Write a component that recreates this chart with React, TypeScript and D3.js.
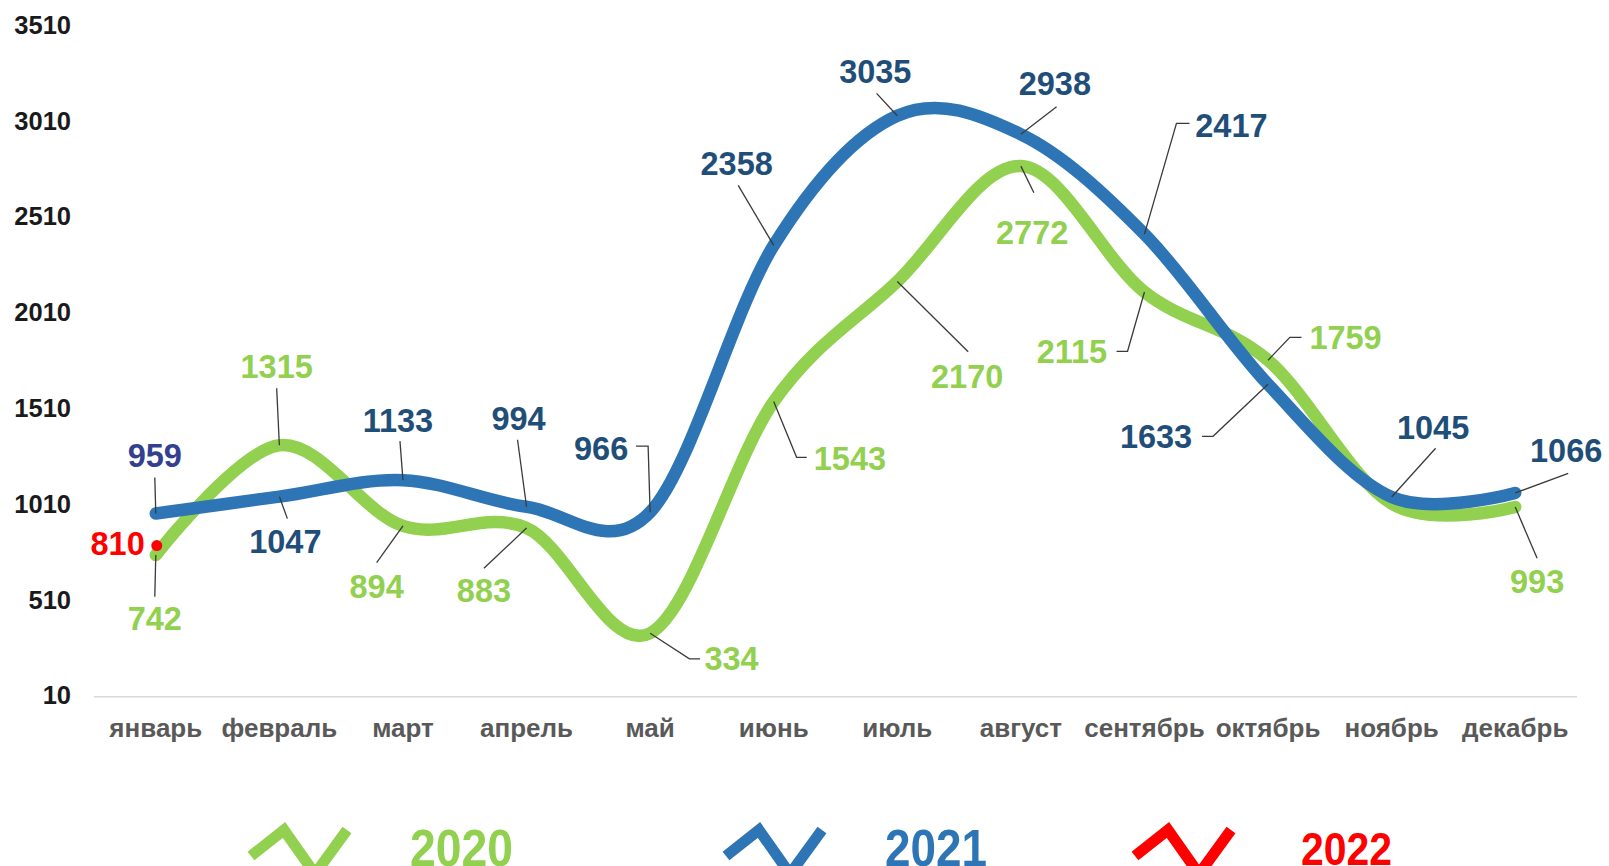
import React from "react";
import * as d3 from "d3";

const months = ["январь","февраль","март","апрель","май","июнь","июль","август","сентябрь","октябрь","ноябрь","декабрь"];
const values2020 = [742, 1315, 894, 883, 334, 1543, 2170, 2772, 2115, 1759, 1010, 993];
const values2021 = [959, 1047, 1133, 994, 966, 2358, 3035, 2938, 2417, 1633, 1045, 1066];
const values2022 = [810];
const yTicks = [10, 510, 1010, 1510, 2010, 2510, 3010, 3510];
const labelled2020 = [true, true, true, true, true, true, true, true, true, true, false, true];

// label layout: [dx, dy] of label centre relative to the point, leader vertices relative to the point
type Lay = { d: [number, number]; lead: [number, number][] };
const layout2021: Lay[] = [
  { d: [-1, -58], lead: [[-1, -36]] },
  { d: [6, 45], lead: [[8, 22]] },
  { d: [-5, -60], lead: [[-3, -39]] },
  { d: [-8, -88], lead: [[-9, -67]] },
  { d: [-49, -64], lead: [[-14, -66], [-2, -66]] },
  { d: [-37, -82], lead: [[-35.5, -60]] },
  { d: [-22, -44], lead: [[-20.7, -22.3]] },
  { d: [34, -51], lead: [[35.7, -27.6]] },
  { d: [87, -109], lead: [[45, -110.7], [32, -110.7]] },
  { d: [-112, 52], lead: [[-66, 52], [-55, 52]] },
  { d: [41.5, -70], lead: [[44, -48.7]] },
  { d: [51, -43], lead: [[53, -19.7]] },
];
const layout2020: Lay[] = [
  { d: [-1, 63], lead: [[-1, 41.6]] },
  { d: [-2.7, -78.6], lead: [[-2.7, -57]] },
  { d: [-26.3, 60.8], lead: [[-26.3, 36.8]] },
  { d: [-42.6, 62], lead: [[-42.6, 40.3]] },
  { d: [81.4, 25.6], lead: [[50, 25.6], [39.3, 25.6]] },
  { d: [76.2, 56.7], lead: [[33, 55.7], [22.9, 55.7]] },
  { d: [69.9, 95.3], lead: [[70.9, 70.3]] },
  { d: [11.3, 66.6], lead: [[13, 26.6]] },
  { d: [-72.5, 59.3], lead: [[-27.9, 59.3], [-16.9, 59.3]] },
  { d: [77.5, -22.9], lead: [[33.5, -22.9], [21.8, -22.9]] },
  { d: [0, 0], lead: [] },
  { d: [21.9, 74.7], lead: [[21.9, 51.3]] },
];

const GREEN = "#92D050";
const BLUE = "#2E75B6";
const BLUE_TXT = "#1F4E79";
const RED = "#FF0000";
const FONT = "'Liberation Sans', Arial, sans-serif";

export default function App() {
  const W = 1609, H = 866;
  const x = d3.scaleBand<string>().domain(months).range([94, 1577]);
  const cx = (m: string) => (x(m) as number) + x.bandwidth() / 2;
  const y = d3.scaleLinear().domain([10, 3510]).range([695.3, 24.7]);
  const line = d3
    .line<number>()
    .x((_, i) => cx(months[i]))
    .y((v) => y(v))
    .curve(d3.curveCardinal.tension(0));

  const fs = 32.5;
  const renderLabels = (vals: number[], lay: Lay[], color: string, show: boolean[] | null, key: string) =>
    vals.map((v, i) => {
      if (show && !show[i]) return null;
      const px = cx(months[i]);
      const py = y(v);
      const L = lay[i];
      const pts = [...L.lead.map(([a, b]) => [px + a, py + b]), [px, py]];
      const fill = key === "b" && i === 0 ? "#333F8F" : color;
      return (
        <g key={key + i}>
          <path d={d3.line()(pts as [number, number][]) || ""} fill="none" stroke="#3a3a3a" strokeWidth={1.3} />
          <text x={px + L.d[0]} y={py + L.d[1] + fs * 0.358} textAnchor="middle" fontFamily={FONT} fontWeight="bold" fontSize={fs} fill={fill}>
            {v}
          </text>
        </g>
      );
    });

  const legend = [
    { name: "2020", color: GREEN, ix: 251, tx: 410, tw: 103, fsz: 52, base: 866 },
    { name: "2021", color: BLUE, ix: 726, tx: 885, tw: 102, fsz: 52, base: 866 },
    { name: "2022", color: RED, ix: 1135, tx: 1301, tw: 91, fsz: 46, base: 865 },
  ];

  return (
    <svg width={W} height={H} style={{ position: "absolute", left: 0, top: 0, background: "#fff" }}>
      <rect width={W} height={H} fill="#fff" />
      <line x1={94} x2={1577} y1={696.7} y2={696.7} stroke="#D9D9D9" strokeWidth={1.5} />
      {yTicks.map((t) => (
        <text key={t} x={71} y={y(t) + 25.5 * 0.358} textAnchor="end" fontFamily={FONT} fontWeight="bold" fontSize={25.5} fill="#1a1a1a">
          {t}
        </text>
      ))}
      {months.map((m) => (
        <text key={m} x={cx(m)} y={737} textAnchor="middle" fontFamily={FONT} fontWeight="bold" fontSize={26} fill="#595959">
          {m}
        </text>
      ))}
      <path d={line(values2020) || ""} fill="none" stroke={GREEN} strokeWidth={12.5} strokeLinecap="round" strokeLinejoin="round" />
      <path d={line(values2021) || ""} fill="none" stroke={BLUE} strokeWidth={12.5} strokeLinecap="round" strokeLinejoin="round" />
      {values2022.map((v, i) => (
        <g key={"r" + i}>
          <circle cx={cx(months[i]) + 1} cy={y(v) + 3.5} r={5.5} fill={RED} />
          <text x={cx(months[i]) - 11} y={y(v) + 1.3 + fs * 0.358} textAnchor="end" fontFamily={FONT} fontWeight="bold" fontSize={fs} fill={RED}>
            {v}
          </text>
        </g>
      ))}
      {renderLabels(values2020, layout2020, GREEN, labelled2020, "g")}
      {renderLabels(values2021, layout2021, BLUE_TXT, null, "b")}
      {legend.map((l) => (
        <g key={l.name}>
          <polyline
            points={`${l.ix},${856} ${l.ix + 33},${830} ${l.ix + 64},${874} ${l.ix + 96},${830}`}
            fill="none"
            stroke={l.color}
            strokeWidth={11}
          />
          <text x={l.tx} y={l.base} textLength={l.tw} lengthAdjust="spacingAndGlyphs" fontFamily={FONT} fontWeight="bold" fontSize={l.fsz} fill={l.color}>
            {l.name}
          </text>
        </g>
      ))}
    </svg>
  );
}
